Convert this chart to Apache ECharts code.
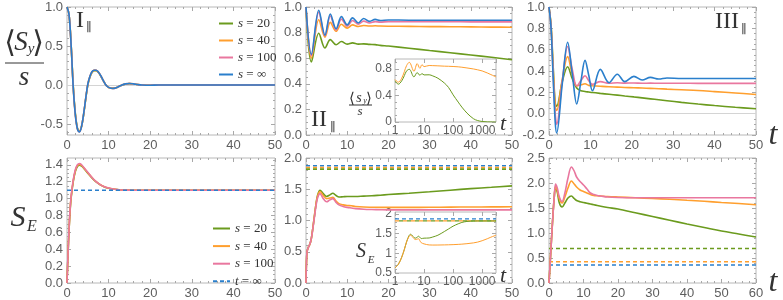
<!DOCTYPE html>
<html><head><meta charset="utf-8">
<script src="https://cdn.jsdelivr.net/npm/echarts@6/dist/echarts.min.js"></script>
<style>html,body{margin:0;padding:0;background:#fff}#c{width:783px;height:300px}</style>
</head><body><div id="c"></div>
<script>
// ---------- DATA ----------
// Panel I (top): <S_y>/s
const tA = [0,0.5,1,1.5,2,2.5,3,3.5,4,4.5,5,5.5,6,6.5,7,7.5,8,8.5,9,9.5,10,11,12,13,14,15,16,17,18,20,22,25,30,40,50];
const I_s20  = [1.0,0.9,0.51,-0.01,-0.36,-0.55,-0.59,-0.53,-0.38,-0.18,0.0,0.1,0.16,0.185,0.185,0.165,0.125,0.08,0.03,-0.01,-0.03,-0.04,-0.03,-0.005,0.012,0.018,0.014,0.006,0.0,-0.002,0.001,0,0,0,0];
const I_s40  = [1.0,0.9,0.505,-0.02,-0.37,-0.555,-0.595,-0.53,-0.375,-0.175,0.005,0.105,0.165,0.188,0.188,0.168,0.128,0.08,0.03,-0.01,-0.03,-0.043,-0.03,-0.005,0.014,0.019,0.015,0.006,0.0,-0.003,0.001,0,0,0,0];
const I_s100 = [1.0,0.9,0.5,-0.03,-0.38,-0.56,-0.6,-0.53,-0.37,-0.17,0.01,0.11,0.17,0.19,0.19,0.17,0.13,0.08,0.03,-0.01,-0.03,-0.045,-0.03,-0.005,0.015,0.02,0.015,0.006,0.0,-0.003,0.001,0,0,0,0];
const I_sInf = [1.0,0.9,0.5,-0.03,-0.38,-0.56,-0.6,-0.53,-0.37,-0.17,0.01,0.11,0.17,0.19,0.19,0.17,0.13,0.08,0.03,-0.01,-0.03,-0.045,-0.03,-0.005,0.015,0.02,0.015,0.006,0.0,-0.003,0.001,0,0,0,0];
// Panel II (top)
const tB = [0,1.3,3.1,4.6,5.9,7.3,8.6,10,11.3,12.7,14,15.4,16.8,18,20,25,30,35,40,45,50];
const II_s20  = [1.0,0.57,0.795,0.68,0.745,0.705,0.73,0.71,0.72,0.71,0.712,0.708,0.706,0.7,0.695,0.678,0.66,0.643,0.625,0.607,0.588];
const II_s40  = [1.0,0.6,0.9,0.765,0.88,0.81,0.865,0.835,0.86,0.848,0.855,0.851,0.853,0.851,0.85,0.849,0.847,0.846,0.845,0.843,0.842];
const II_s100 = [1.0,0.62,0.96,0.775,0.93,0.82,0.905,0.85,0.895,0.865,0.89,0.875,0.886,0.882,0.885,0.885,0.885,0.885,0.884,0.884,0.884];
const II_sInf = [1.0,0.63,0.975,0.78,0.945,0.83,0.925,0.86,0.915,0.875,0.91,0.888,0.903,0.895,0.899,0.897,0.897,0.897,0.897,0.897,0.897];
// Panel III (top)
const tC = [0,0.5,1.0,1.5,1.85,3.2,4.5,5.6,6.7,7.7,8.7,9.6,10.5,12.4,14.5,16.5,18.3,20.5,22.5,24.5,26.5,28.5,32,36,40,45,50];
const III_s20  = [1.0,0.83,0.45,0.1,0.07,0.3,0.44,0.33,0.24,0.215,0.208,0.203,0.198,0.19,0.182,0.174,0.166,0.157,0.148,0.139,0.13,0.121,0.106,0.09,0.076,0.06,0.046];
const III_s40  = [1.0,0.82,0.42,0.07,0.03,0.32,0.535,0.37,0.26,0.27,0.28,0.265,0.262,0.257,0.252,0.249,0.246,0.243,0.24,0.237,0.234,0.23,0.224,0.217,0.207,0.194,0.18];
const III_s100 = [1.0,0.81,0.37,0.0,-0.1,0.3,0.63,0.42,0.26,0.31,0.355,0.31,0.275,0.3,0.285,0.29,0.286,0.288,0.285,0.286,0.285,0.285,0.285,0.284,0.284,0.284,0.284];
const III_sInf = [1.0,0.8,0.34,-0.08,-0.18,0.28,0.67,0.38,0.09,0.3,0.5,0.36,0.215,0.415,0.29,0.37,0.30,0.35,0.315,0.34,0.325,0.335,0.33,0.33,0.33,0.33,0.33];
// Panel I (bottom): S_E
const tD = [0,0.25,0.5,0.75,1,1.5,2,2.5,3,3.5,4,5,6,7,8,9,10,11,12,13,14,16,20,30,40,50];
const SI_s20  = [0,0.34,0.63,0.86,1.01,1.2,1.32,1.38,1.395,1.385,1.36,1.3,1.245,1.197,1.162,1.138,1.122,1.112,1.106,1.102,1.1,1.099,1.099,1.099,1.099,1.099];
const SI_s40  = [0,0.35,0.64,0.87,1.02,1.21,1.33,1.39,1.405,1.393,1.365,1.305,1.248,1.199,1.164,1.14,1.124,1.113,1.106,1.102,1.1,1.099,1.099,1.099,1.099,1.099];
const SI_s100 = [0,0.35,0.65,0.88,1.03,1.22,1.34,1.4,1.415,1.4,1.37,1.31,1.25,1.2,1.165,1.14,1.125,1.113,1.106,1.102,1.1,1.099,1.099,1.099,1.099,1.099];
const SI_tInf = [1.0986];
// Panel II (bottom)
const tE = [0,0.1,0.25,0.5,0.8,1.2,1.6,2,2.4,2.8,3.4,4.2,5,5.8,6.5,7.3,8,9,10,11,12,14,16,18,20,25,30,35,40,45,50];
const SII_s20  = [0,0.3,0.5,0.56,0.6,0.68,0.85,1.05,1.25,1.4,1.485,1.43,1.385,1.41,1.435,1.4,1.375,1.38,1.385,1.385,1.385,1.39,1.395,1.405,1.415,1.437,1.46,1.485,1.51,1.532,1.554];
const SII_s40  = [0,0.3,0.5,0.56,0.6,0.68,0.85,1.05,1.25,1.39,1.465,1.4,1.35,1.36,1.37,1.31,1.27,1.25,1.24,1.235,1.225,1.215,1.212,1.21,1.21,1.21,1.212,1.214,1.216,1.218,1.22];
const SII_s100 = [0,0.3,0.5,0.56,0.6,0.68,0.84,1.03,1.22,1.36,1.43,1.35,1.3,1.33,1.35,1.29,1.25,1.225,1.21,1.2,1.19,1.18,1.175,1.172,1.17,1.17,1.17,1.17,1.17,1.17,1.17];
const SII_tInf = [1.875, 1.848, 1.822]; // t=inf levels: blue, orange, green
// Panel III (bottom)
const tF = [0,0.5,1,1.5,1.9,2.4,3,3.8,4.6,5.5,6.5,7.3,8,9,10,11,12,13,14,15,17,20,25,30,35,40,45,50,55,60];
const SIII_s20  = [0,0.6,1.2,1.7,1.91,1.82,1.6,1.52,1.6,1.7,1.74,1.69,1.65,1.625,1.61,1.595,1.58,1.565,1.55,1.535,1.51,1.48,1.405,1.33,1.255,1.18,1.11,1.04,0.98,0.92];
const SIII_s40  = [0,0.6,1.2,1.7,1.93,1.85,1.68,1.6,1.72,1.9,2.04,1.98,1.92,1.86,1.83,1.8,1.77,1.75,1.745,1.74,1.73,1.72,1.705,1.69,1.675,1.655,1.635,1.61,1.59,1.566];
const SIII_s100 = [0,0.6,1.2,1.7,1.98,1.9,1.72,1.63,1.8,2.1,2.32,2.24,2.12,2.03,1.96,1.88,1.8,1.77,1.75,1.74,1.72,1.71,1.705,1.705,1.705,1.705,1.705,1.705,1.705,1.705];
const SIII_tInf = [0.36, 0.425, 0.69]; // blue, orange, green
// Inset (top), log time
const tG = [1,1.3,1.7,2.1,2.5,3.1,4.5,5.8,7.2,8.5,10,15,20,30,50,70,100,150,200,300,500,700,1000,1500,2000,3000];
const IN1_s20 = [0.62,0.57,0.62,0.7,0.77,0.795,0.68,0.745,0.705,0.73,0.71,0.712,0.695,0.66,0.588,0.52,0.41,0.3,0.225,0.135,0.05,0.022,0.008,0.002,0.001,0.0];
const IN1_s40 = [0.64,0.6,0.66,0.76,0.85,0.9,0.765,0.88,0.81,0.865,0.835,0.852,0.85,0.847,0.842,0.84,0.837,0.832,0.826,0.815,0.8,0.787,0.77,0.74,0.715,0.68];
// Inset (bottom), log time
const tH = [1,1.3,1.7,2.1,2.5,3,3.4,4.2,5,5.8,6.5,7.3,8,10,15,20,30,50,70,100,150,200,300,500,700,1000,1500,2000,3000];
const IN2_s20 = [0.63,0.72,0.9,1.1,1.29,1.44,1.485,1.43,1.385,1.41,1.435,1.4,1.375,1.385,1.39,1.415,1.46,1.554,1.62,1.69,1.75,1.785,1.81,1.82,1.822,1.822,1.822,1.822,1.822];
const IN2_s40 = [0.63,0.72,0.9,1.1,1.29,1.42,1.465,1.4,1.35,1.36,1.37,1.31,1.27,1.24,1.213,1.21,1.211,1.214,1.217,1.221,1.227,1.233,1.245,1.265,1.285,1.32,1.37,1.41,1.46];
const IN2_tInf = [1.875, 1.822, 1.822]; // blue, orange, green
// Tick labels
const xTicks50 = [0,10,20,30,40,50];
const xTicks60 = [0,10,20,30,40,50,60];
const yTicksI  = [-0.5,0,0.5,1.0];
const yTicksII = [0,0.2,0.4,0.6,0.8,1.0];
const yTicksIII= [-0.2,0,0.2,0.4,0.6,0.8,1.0];
const yTicksSI = [0,0.2,0.4,0.6,0.8,1.0,1.2,1.4];
const yTicksSII= [0,0.5,1.0,1.5,2.0];
const yTicksSIII=[0,0.5,1.0,1.5,2.0,2.5];
const yTicksIn1= [0,0.4,0.8];
const yTicksIn2= [0.5,1,1.5,2];

// ---------- STYLE ----------
const GREEN='#6b9b1e', ORANGE='#ff9f2e', PINK='#e9779f', BLUE='#2a7fcc';
const TICK='#a8a8a8', FRAME='#b8b8b8', LABEL='#5e5e5e';
const FONT="'Liberation Sans Narrow','Liberation Sans',Arial,sans-serif";
const SERIF="'Liberation Serif','DejaVu Serif',serif";

const grids=[
  {left:67, top:7, width:208, height:128},
  {left:306,top:7, width:206, height:128},
  {left:549,top:7, width:207, height:128},
  {left:67, top:158,width:208,height:130},
  {left:306,top:158,width:206,height:130},
  {left:549,top:158,width:207,height:130},
  {left:395,top:59, width:101,height:63},
  {left:395,top:212,width:101,height:61}
].map(g=>Object.assign({show:true,borderColor:FRAME,borderWidth:1,backgroundColor:'#fff',containLabel:false},g));

function steps(a,b,s){const r=[];for(let i=0;a+i*s<=b+1e-9;i++)r.push(+(a+i*s).toFixed(6));return r;}
function minorOf(a,b,s,major){return steps(a,b,s).filter(v=>!major.some(m=>Math.abs(m-v)<1e-6));}

const xAxis=[], yAxis=[];
function valueAxes(list,dim,gi,c){
  const pos=dim==='x'?['bottom','top']:['left','right'];
  let main;
  pos.forEach((p,pi)=>{
    [[c.major,4],[c.minor,2]].forEach(([vals,len],mi)=>{
      const isMain=pi===0&&mi===0;
      if(isMain) main=list.length;
      list.push({type:'value',gridIndex:gi,position:p,min:c.min,max:c.max,
        axisLine:{show:false,onZero:false},splitLine:{show:false},
        axisTick:{show:true,inside:true,length:len,lineStyle:{color:TICK,width:1},customValues:vals},
        axisLabel:{show:isMain,customValues:vals,formatter:c.fmt,margin:c.margin,color:LABEL,fontSize:c.fs||13,fontFamily:FONT}
      });
    });
  });
  return main;
}
function logAxes(gi){
  let main;
  ['bottom','top'].forEach((p,pi)=>{
    if(pi===0) main=xAxis.length;
    xAxis.push({type:'log',logBase:10,gridIndex:gi,position:p,min:1,max:3000,
      axisLine:{show:false,onZero:false},splitLine:{show:false},
      axisTick:{show:true,inside:true,length:4,lineStyle:{color:TICK,width:1}},
      axisLabel:{show:pi===0,showMaxLabel:false,formatter:v=>String(Math.round(v)),margin:3,color:LABEL,fontSize:12,fontFamily:FONT}
    });
  });
  return main;
}
const f1=v=>v.toFixed(1);
const fIn=v=>String(v);
const X=[],Y=[];
X[0]=valueAxes(xAxis,'x',0,{min:0,max:50,major:xTicks50,minor:minorOf(0,50,2,xTicks50),fmt:String,margin:4});
Y[0]=valueAxes(yAxis,'y',0,{min:-0.64,max:1.0,major:yTicksI,minor:minorOf(-0.6,1.0,0.1,yTicksI),fmt:f1,margin:4});
X[1]=valueAxes(xAxis,'x',1,{min:0,max:50,major:xTicks50,minor:minorOf(0,50,2,xTicks50),fmt:String,margin:4});
Y[1]=valueAxes(yAxis,'y',1,{min:0,max:1.0,major:yTicksII,minor:minorOf(0,1,0.05,yTicksII),fmt:f1,margin:4});
X[2]=valueAxes(xAxis,'x',2,{min:0,max:50,major:xTicks50,minor:minorOf(0,50,2,xTicks50),fmt:String,margin:4});
Y[2]=valueAxes(yAxis,'y',2,{min:-0.2,max:1.0,major:yTicksIII,minor:minorOf(-0.2,1.0,0.05,yTicksIII),fmt:f1,margin:4});
X[3]=valueAxes(xAxis,'x',3,{min:0,max:50,major:xTicks50,minor:minorOf(0,50,2,xTicks50),fmt:String,margin:4});
Y[3]=valueAxes(yAxis,'y',3,{min:0,max:1.48,major:yTicksSI,minor:minorOf(0,1.45,0.05,yTicksSI),fmt:f1,margin:4});
X[4]=valueAxes(xAxis,'x',4,{min:0,max:50,major:xTicks50,minor:minorOf(0,50,2,xTicks50),fmt:String,margin:4});
Y[4]=valueAxes(yAxis,'y',4,{min:0,max:2.0,major:yTicksSII,minor:minorOf(0,2,0.1,yTicksSII),fmt:f1,margin:4});
X[5]=valueAxes(xAxis,'x',5,{min:0,max:60,major:xTicks60,minor:minorOf(0,60,2,xTicks60),fmt:String,margin:4});
Y[5]=valueAxes(yAxis,'y',5,{min:0,max:2.5,major:yTicksSIII,minor:minorOf(0,2.5,0.1,yTicksSIII),fmt:f1,margin:4});
X[6]=logAxes(6);
Y[6]=valueAxes(yAxis,'y',6,{min:0,max:0.95,major:yTicksIn1,minor:minorOf(0,0.9,0.1,yTicksIn1),fmt:fIn,margin:3,fs:12});
X[7]=logAxes(7);
Y[7]=valueAxes(yAxis,'y',7,{min:0.5,max:2.05,major:yTicksIn2,minor:minorOf(0.5,2.0,0.1,yTicksIn2),fmt:fIn,margin:3,fs:12});

const series=[];
function addLine(gi,t,v,color,o={}){
  const s={type:'line',xAxisIndex:X[gi],yAxisIndex:Y[gi],data:t.map((x,i)=>[x,v[i]]),
    symbol:'none',smooth:o.smooth===undefined?0.35:o.smooth,clip:true,silent:true,
    lineStyle:{color,width:o.width||1.6,type:o.type||'solid',dashOffset:o.dashOffset||0},
    itemStyle:{color},emphasis:{disabled:true},z:o.z||2};
  if(o.name) s.name=o.name;
  if(o.zero) s.markLine={silent:true,symbol:'none',label:{show:false},lineStyle:{color:'#d4d4d4',width:1,type:'solid'},data:[{yAxis:0}],z:1};
  series.push(s);
}
function addLevel(gi,x0,x1,level,color,o={}){
  addLine(gi,[x0,x1],[level,level],color,Object.assign({smooth:false,type:[4,3]},o));
}
addLine(0,tA,I_s20,GREEN,{name:'s = 20',zero:true});
addLine(0,tA,I_s40,ORANGE,{name:'s = 40'});
addLine(0,tA,I_s100,PINK,{name:'s = 100'});
addLine(0,tA,I_sInf,BLUE,{name:'s = ∞'});
addLine(1,tB,II_s20,GREEN);
addLine(1,tB,II_s40,ORANGE);
addLine(1,tB,II_s100,PINK);
addLine(1,tB,II_sInf,BLUE);
addLine(2,tC,III_s20,GREEN,{zero:true});
addLine(2,tC,III_s40,ORANGE);
addLine(2,tC,III_s100,PINK);
addLine(2,tC,III_sInf,BLUE);
addLine(3,tD,SI_s20,GREEN,{name:'s = 20'});
addLine(3,tD,SI_s40,ORANGE,{name:'s = 40'});
addLine(3,tD,SI_s100,PINK,{name:'s = 100'});
addLevel(3,0,50,SI_tInf[0],BLUE,{name:'t = ∞'});
addLevel(4,0,50,SII_tInf[0],BLUE);
addLevel(4,0,50,SII_tInf[1],ORANGE);
addLevel(4,0,50,SII_tInf[2],GREEN);
addLine(4,tE,SII_s20,GREEN);
addLine(4,tE,SII_s40,ORANGE);
addLine(4,tE,SII_s100,PINK);
addLevel(5,0,60,SIII_tInf[0],BLUE);
addLevel(5,0,60,SIII_tInf[1],ORANGE);
addLevel(5,0,60,SIII_tInf[2],GREEN);
addLine(5,tF,SIII_s20,GREEN);
addLine(5,tF,SIII_s40,ORANGE);
addLine(5,tF,SIII_s100,PINK);
addLine(6,tG,IN1_s20,GREEN,{width:1,z:5});
addLine(6,tG,IN1_s40,ORANGE,{width:1,z:5});
addLevel(7,1,3000,IN2_tInf[0],BLUE,{width:1.3,z:5,type:[4,3]});
addLevel(7,1,3000,IN2_tInf[1],ORANGE,{width:1.3,z:5,type:[4,4]});
addLevel(7,1,3000,IN2_tInf[2],GREEN,{width:1.3,z:5,type:[4,4],dashOffset:4});
addLine(7,tH,IN2_s20,GREEN,{width:1,z:5});
addLine(7,tH,IN2_s40,ORANGE,{width:1,z:5});

// ---------- TEXT ----------
function txt(x,y,text,size,o={}){
  return {type:'text',x,y,silent:true,z:10,style:{text,fill:o.fill||'#333',
    font:(o.italic?'italic ':'')+size+'px '+(o.family||SERIF),align:o.align||'center',verticalAlign:'middle'}};
}
function hline(x1,x2,y){return {type:'line',silent:true,z:10,shape:{x1,y1:y,x2,y2:y},style:{stroke:'#333',lineWidth:1}};}
const graphic=[
  txt(80,20.5,'I',24), txt(89,28,'∥',12,{family:"'DejaVu Serif',serif"}),
  txt(319,120,'II',24), txt(333,128,'∥',12,{family:"'DejaVu Serif',serif"}),
  txt(727,21.5,'III',24), txt(744,30,'∥',12,{family:"'DejaVu Serif',serif"}),
  txt(773,136,'t',32,{italic:true}), txt(773,283,'t',32,{italic:true}),
  txt(503,124,'t',22,{italic:true}), txt(503,276,'t',22,{italic:true}),
  txt(10,44,'⟨',30,{family:"'DejaVu Serif',serif"}), txt(21,43,'S',27,{italic:true}), txt(31,49,'y',15,{italic:true}), txt(38,44,'⟩',30,{family:"'DejaVu Serif',serif"}),
  hline(5,44,63), txt(24,78,'s',27,{italic:true}),
  txt(18,218,'S',30,{italic:true}), txt(32,227,'E',16,{italic:true}),
  txt(352,99,'⟨',15,{family:"'DejaVu Serif',serif"}), txt(359,98,'s',14,{italic:true}), txt(365,101,'y',8,{italic:true}), txt(369,99,'⟩',15,{family:"'DejaVu Serif',serif"}),
  hline(349,372,105), txt(360,112,'s',13,{italic:true}),
  txt(361,252,'S',20,{italic:true}), txt(371,260,'E',11,{italic:true})
];

const legFmt=n=>{const p=n.split(' = ');return '{i|'+p[0]+'} = '+p[1];};
const legText={fontFamily:SERIF,fontSize:13,color:'#333',rich:{i:{fontFamily:SERIF,fontStyle:'italic',fontSize:13,color:'#333'}}};
const legend=[
  {left:213,top:12,orient:'vertical',itemWidth:14,itemHeight:14,itemGap:4,itemStyle:{opacity:0},selectedMode:false,
   data:['s = 20','s = 40','s = 100','s = ∞'],formatter:legFmt,textStyle:legText},
  {left:207,top:217,orient:'vertical',itemWidth:17,itemHeight:14,itemGap:4.6,itemStyle:{opacity:0},selectedMode:false,
   data:['s = 20','s = 40','s = 100','t = ∞'],formatter:legFmt,textStyle:legText}
];

const chart=echarts.init(document.getElementById('c'),null,{renderer:'canvas'});
chart.setOption({animation:false,backgroundColor:'#fff',grid:grids,xAxis,yAxis,series,legend,graphic});
</script></body></html>
